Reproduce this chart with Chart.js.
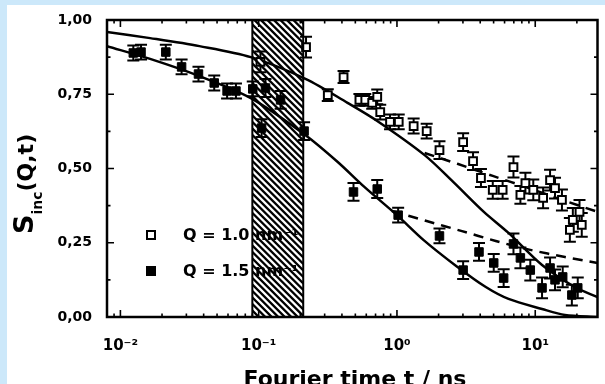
<!DOCTYPE html>
<html>
<head>
<meta charset="utf-8">
<script src="https://cdn.jsdelivr.net/npm/chart.js@4"></script>
<style>
  html, body { margin: 0; padding: 0; background: #cce8fa; }
  canvas { display: block; }
</style>
</head>
<body>
<canvas id="chart" width="605" height="384"></canvas>
<script>
// Q = 1.0 nm^-1 (open squares)
const tOpen = [0.103, 0.220, 0.316, 0.411, 0.535, 0.590, 0.662, 0.720, 0.757, 0.891, 1.03, 1.32, 1.64, 2.03, 3.01, 3.55, 4.05, 4.93, 5.81, 6.96, 7.81, 8.49, 9.68, 11.4, 12.8, 13.9, 15.6, 17.8, 18.7, 20.9, 21.7];
const sOpen = [0.859, 0.909, 0.747, 0.808, 0.731, 0.731, 0.721, 0.741, 0.690, 0.657, 0.657, 0.643, 0.626, 0.562, 0.589, 0.525, 0.468, 0.428, 0.428, 0.505, 0.411, 0.451, 0.428, 0.401, 0.461, 0.434, 0.394, 0.293, 0.327, 0.354, 0.310];
const eOpen = [0.035, 0.035, 0.02, 0.02, 0.02, 0.02, 0.02, 0.025, 0.025, 0.025, 0.025, 0.025, 0.025, 0.03, 0.03, 0.03, 0.03, 0.03, 0.03, 0.035, 0.03, 0.035, 0.035, 0.035, 0.035, 0.035, 0.035, 0.04, 0.04, 0.04, 0.04];

// Q = 1.5 nm^-1 (filled squares)
const tFilled = [0.0124, 0.0141, 0.0213, 0.0277, 0.0367, 0.0477, 0.0591, 0.0685, 0.0906, 0.105, 0.112, 0.144, 0.213, 0.485, 0.720, 1.02, 2.03, 3.01, 3.92, 5.01, 5.91, 6.96, 7.81, 9.21, 11.2, 12.8, 13.9, 15.8, 18.4, 20.3];
const sFilled = [0.889, 0.892, 0.892, 0.842, 0.818, 0.788, 0.761, 0.761, 0.768, 0.636, 0.771, 0.731, 0.626, 0.421, 0.431, 0.343, 0.273, 0.158, 0.219, 0.182, 0.131, 0.246, 0.199, 0.158, 0.098, 0.165, 0.125, 0.135, 0.074, 0.098];
const eFilled = [0.025, 0.025, 0.025, 0.025, 0.025, 0.025, 0.025, 0.025, 0.025, 0.03, 0.03, 0.03, 0.03, 0.03, 0.03, 0.025, 0.025, 0.03, 0.03, 0.03, 0.03, 0.035, 0.035, 0.035, 0.035, 0.035, 0.035, 0.035, 0.035, 0.035];

// fit curves
const tFit10 = [0.008, 0.0164, 0.0373, 0.0877, 0.220, 0.439, 0.720, 1.585, 2.55, 4.25, 6.41, 11.2, 19.3, 28.2];
const sFit10 = [0.960, 0.939, 0.912, 0.875, 0.801, 0.721, 0.660, 0.545, 0.455, 0.354, 0.283, 0.175, 0.101, 0.067];
const tFit15 = [0.008, 0.0164, 0.0373, 0.0877, 0.217, 0.373, 0.581, 1.0, 1.56, 2.68, 4.39, 6.41, 11.2, 16.4, 28.2];
const sFit15 = [0.912, 0.869, 0.811, 0.737, 0.613, 0.522, 0.438, 0.343, 0.259, 0.172, 0.101, 0.061, 0.027, 0.007, 0.0];
const tDash10 = [1.585, 2.77, 4.93, 8.49, 15.1, 28.2];
const sDash10 = [0.552, 0.515, 0.475, 0.438, 0.397, 0.354];
const tDash15 = [0.921, 1.638, 2.91, 5.18, 9.21, 16.4, 28.2];
const sDash15 = [0.357, 0.323, 0.290, 0.256, 0.226, 0.202, 0.182];

const seriesLabels = ['Q = 1.0 nm\u207B\u00B9', 'Q = 1.5 nm\u207B\u00B9'];
const xTickValues = [0.01, 0.1, 1, 10];
const xTickLabels = ['10\u207B\u00B2', '10\u207B\u00B9', '10\u2070', '10\u00B9'];
const band = [0.09, 0.21];

const pts = (xs, ys) => xs.map((x, i) => ({ x: x, y: ys[i] }));
const FONT = '"DejaVu Sans", sans-serif';

const decor = {
    id: 'decor',
    beforeDraw(chart) {
        const ctx = chart.ctx;
        ctx.save();
        ctx.fillStyle = '#cce8fa';
        ctx.fillRect(0, 0, chart.width, chart.height);
        ctx.fillStyle = '#ffffff';
        ctx.fillRect(7, 5, chart.width - 7, chart.height - 5);
        ctx.restore();
    },
    beforeDatasetsDraw(chart) {
        // error bars
        const ctx = chart.ctx, ys = chart.scales.y;
        ctx.save();
        ctx.strokeStyle = '#000';
        ctx.lineWidth = 2;
        chart.data.datasets.forEach((ds, di) => {
            if (!ds.errors) return;
            chart.getDatasetMeta(di).data.forEach((el, i) => {
                const v = ds.data[i].y, e = ds.errors[i];
                const y1 = ys.getPixelForValue(v - e), y2 = ys.getPixelForValue(v + e);
                ctx.beginPath();
                ctx.moveTo(el.x, y1); ctx.lineTo(el.x, y2);
                ctx.moveTo(el.x - 6, y1); ctx.lineTo(el.x + 6, y1);
                ctx.moveTo(el.x - 6, y2); ctx.lineTo(el.x + 6, y2);
                ctx.stroke();
            });
        });
        ctx.restore();
    },
    afterDatasetsDraw(chart) {
        const ctx = chart.ctx, a = chart.chartArea;
        const xs = chart.scales.x, ys = chart.scales.y;
        ctx.save();

        // legend
        ctx.font = 'bold 16px ' + FONT;
        ctx.textBaseline = 'middle';
        ctx.fillStyle = '#000';
        [235, 271].forEach((yy, i) => {
            ctx.lineWidth = 2;
            if (i === 0) {
                ctx.strokeRect(147, yy - 4, 8, 8);
            } else {
                ctx.fillRect(146, yy - 5, 10, 10);
            }
            ctx.fillText(seriesLabels[i], 183, yy + 1);
        });

        // hatched band
        const bx1 = xs.getPixelForValue(band[0]), bx2 = xs.getPixelForValue(band[1]);
        ctx.save();
        ctx.beginPath();
        ctx.rect(bx1, a.top, bx2 - bx1, a.bottom - a.top);
        ctx.clip();
        ctx.strokeStyle = '#000';
        ctx.lineWidth = 2.4;
        ctx.beginPath();
        for (let k = bx1 - (a.bottom - a.top); k < bx2 + 10; k += 6.5) {
            ctx.moveTo(k, a.top);
            ctx.lineTo(k + (a.bottom - a.top), a.bottom);
        }
        ctx.stroke();
        ctx.restore();
        ctx.lineWidth = 2;
        ctx.beginPath();
        ctx.moveTo(bx1, a.top); ctx.lineTo(bx1, a.bottom);
        ctx.moveTo(bx2, a.top); ctx.lineTo(bx2, a.bottom);
        ctx.stroke();

        // inward ticks
        ctx.strokeStyle = '#000';
        ctx.lineWidth = 1.6;
        ctx.beginPath();
        for (let d = -3; d <= 2; d++) {
            for (let m = 1; m <= 9; m++) {
                const v = m * Math.pow(10, d);
                if (v < xs.min || v > xs.max) continue;
                const px = xs.getPixelForValue(v), len = m === 1 ? 7 : 3.5;
                ctx.moveTo(px, a.bottom); ctx.lineTo(px, a.bottom - len);
                ctx.moveTo(px, a.top); ctx.lineTo(px, a.top + len);
            }
        }
        for (let k = 0; k <= 8; k++) {
            const py = ys.getPixelForValue(k * 0.125), len = k % 2 === 0 ? 7 : 3.5;
            ctx.moveTo(a.left, py); ctx.lineTo(a.left + len, py);
            ctx.moveTo(a.right, py); ctx.lineTo(a.right - len, py);
        }
        ctx.stroke();

        // frame
        ctx.lineWidth = 2.5;
        ctx.strokeRect(a.left, a.top, a.right - a.left, a.bottom - a.top);
        ctx.restore();
    },
    afterDraw(chart) {
        const ctx = chart.ctx;
        ctx.save();
        ctx.fillStyle = '#000';

        // x title
        ctx.font = 'bold 22px ' + FONT;
        ctx.textAlign = 'center';
        ctx.textBaseline = 'alphabetic';
        ctx.fillText('Fourier time t / ns', 355, 386);

        // y title S_inc(Q,t)
        ctx.translate(33, 234);
        ctx.rotate(-Math.PI / 2);
        ctx.textAlign = 'left';
        ctx.font = 'bold 27px ' + FONT;
        ctx.fillText('S', 0, 0);
        let w = ctx.measureText('S').width;
        ctx.font = 'bold 14px ' + FONT;
        ctx.fillText('inc', w, 9);
        w += ctx.measureText('inc').width;
        ctx.font = 'bold 22px ' + FONT;
        ctx.fillText('(Q,t)', w, 0);
        ctx.restore();
    }
};

const lineStyle = { showLine: true, pointRadius: 0, borderColor: '#000', borderWidth: 2.5, tension: 0.3, fill: false };

new Chart(document.getElementById('chart'), {
    type: 'scatter',
    data: {
        datasets: [
            {
                label: seriesLabels[0],
                data: pts(tOpen, sOpen),
                errors: eOpen,
                pointStyle: 'rect',
                pointRadius: 5.5,
                backgroundColor: '#fff',
                borderColor: '#000',
                borderWidth: 2
            },
            {
                label: seriesLabels[1],
                data: pts(tFilled, sFilled),
                errors: eFilled,
                pointStyle: 'rect',
                pointRadius: 6,
                backgroundColor: '#000',
                borderColor: '#000',
                borderWidth: 1
            },
            Object.assign({ label: 'fit 1.0', data: pts(tFit10, sFit10) }, lineStyle),
            Object.assign({ label: 'fit 1.5', data: pts(tFit15, sFit15) }, lineStyle),
            Object.assign({ label: 'dash 1.0', data: pts(tDash10, sDash10), borderDash: [10, 7] }, lineStyle),
            Object.assign({ label: 'dash 1.5', data: pts(tDash15, sDash15), borderDash: [10, 7] }, lineStyle)
        ]
    },
    options: {
        responsive: false,
        animation: false,
        layout: { padding: { left: 0, top: 20, right: 2, bottom: 0 } },
        plugins: {
            legend: { display: false },
            tooltip: { enabled: false }
        },
        scales: {
            x: {
                type: 'logarithmic',
                min: 0.008,
                max: 28.2,
                grid: { display: false },
                border: { display: false },
                afterFit: (s) => { s.height = 67; },
                afterBuildTicks: (s) => { s.ticks = xTickValues.map(v => ({ value: v })); },
                ticks: {
                    autoSkip: false,
                    maxRotation: 0,
                    padding: 12,
                    color: '#000',
                    font: { family: FONT, size: 15, weight: 'bold' },
                    callback: (v) => xTickLabels[xTickValues.indexOf(v)] || ''
                }
            },
            y: {
                min: 0,
                max: 1,
                grid: { display: false },
                border: { display: false },
                afterFit: (s) => { s.width = 107; },
                ticks: {
                    stepSize: 0.25,
                    padding: 7,
                    color: '#000',
                    font: { family: FONT, size: 14, weight: 'bold' },
                    callback: (v) => v.toFixed(2).replace('.', ',')
                }
            }
        }
    },
    plugins: [decor]
});
</script>
</body>
</html>
